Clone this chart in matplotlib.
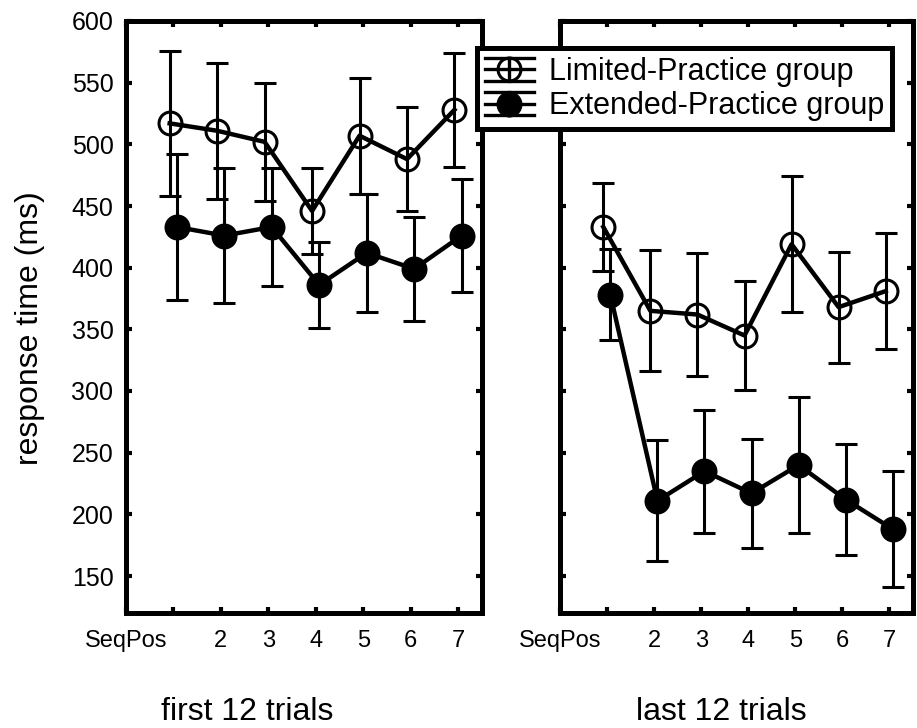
import matplotlib
matplotlib.use("Agg")
import matplotlib.pyplot as plt
from matplotlib.lines import Line2D
from matplotlib.legend_handler import HandlerBase

plt.rcParams['font.family'] = ['Liberation Sans', 'DejaVu Sans']

# sequence positions 1..7
seq_pos = [1, 2, 3, 4, 5, 6, 7]
tick_labels = ['SeqPos', '', '2', '3', '4', '5', '6', '7']

# first 12 trials: mean response time (ms) and error bar half-widths
first_limited = [517, 511, 502, 446, 507, 488, 528]
first_limited_err = [59, 55, 48, 35, 47, 42, 46]
first_extended = [433, 426, 433, 386, 412, 399, 426]
first_extended_err = [59, 55, 48, 35, 48, 42, 46]

# last 12 trials
last_limited = [433, 365, 362, 345, 419, 368, 381]
last_limited_err = [36, 49, 50, 44, 55, 45, 47]
last_extended = [378, 211, 235, 217, 240, 212, 188]
last_extended_err = [37, 49, 50, 44, 55, 45, 47]

group_names = ['Limited-Practice group', 'Extended-Practice group']
panel_names = ['first 12 trials', 'last 12 trials']


class ErrorbarHandle(HandlerBase):
    """Legend key: three horizontal bars, a vertical whisker and the marker."""

    def __init__(self, filled):
        super().__init__()
        self.filled = filled

    def create_artists(self, legend, orig_handle, xdescent, ydescent,
                       width, height, fontsize, trans):
        x0 = -xdescent
        x1 = x0 + width
        xc = (x0 + x1) / 2
        yc = -ydescent + height / 2
        dy = 0.42 * height
        arts = []
        for y in (yc - dy, yc, yc + dy):
            arts.append(Line2D([x0, x1], [y, y], color='k', lw=2.4))
        arts.append(Line2D([xc, xc], [yc - dy, yc + dy], color='k', lw=2.4))
        arts.append(Line2D([xc], [yc], marker='o', ms=16.5, mew=2.2,
                           mec='k', mfc='k' if self.filled else 'none',
                           ls='none'))
        for a in arts:
            a.set_transform(trans)
        return arts


fig = plt.figure(figsize=(9.17, 7.28), dpi=100)
ax1 = fig.add_axes([126 / 917, 115 / 728, 356 / 917, 592 / 728])
ax2 = fig.add_axes([560 / 917, 115 / 728, 353 / 917, 592 / 728])

panels = [
    (ax1, first_limited, first_limited_err, first_extended, first_extended_err),
    (ax2, last_limited, last_limited_err, last_extended, last_extended_err),
]

style = dict(color='k', lw=3.2, elinewidth=2.2, capsize=8, capthick=2.2,
             ms=16.5, mew=2.2)

for ax, lim, lim_err, ext, ext_err in panels:
    ax.errorbar([p - 0.08 for p in seq_pos], lim, yerr=lim_err, fmt='-o',
                mfc='none', mec='k', **style)
    ax.errorbar([p + 0.07 for p in seq_pos], ext, yerr=ext_err, fmt='-o',
                mfc='k', mec='k', **style)

    ax.set_xlim(0, 7.5)
    ax.set_ylim(120, 600)
    ax.set_xticks(range(0, 8))
    ax.set_xticklabels(tick_labels)
    ax.set_yticks(range(150, 601, 50))
    ax.tick_params(direction='in', top=True, right=True, length=4, width=3)
    ax.tick_params(axis='x', pad=12, labelsize=17)
    ax.tick_params(axis='y', pad=9, labelsize=18)
    for sp in ax.spines.values():
        sp.set_linewidth(3.6)

ax2.tick_params(labelleft=False)

ax1.set_ylabel('response time (ms)', fontsize=23)
ax1.yaxis.set_label_coords(-0.2275, 0.481)

fig.text(247 / 917, 1 / 728, panel_names[0], fontsize=23, ha='center',
         va='bottom')
fig.text(721 / 917, 1 / 728, panel_names[1], fontsize=23, ha='center',
         va='bottom')

keys = [Line2D([], []), Line2D([], [])]
leg = fig.legend(keys, group_names, loc='upper left',
                 bbox_to_anchor=(477 / 917, 1 - 48 / 728),
                 handler_map={keys[0]: ErrorbarHandle(False),
                              keys[1]: ErrorbarHandle(True)},
                 fontsize=22, frameon=True, fancybox=False, framealpha=1,
                 edgecolor='k', borderpad=0.25, borderaxespad=0,
                 labelspacing=0.1, handlelength=1.6, handleheight=1.0,
                 handletextpad=0.5)
leg.get_frame().set_linewidth(3.6)

fig.savefig('out.png', dpi=100)
